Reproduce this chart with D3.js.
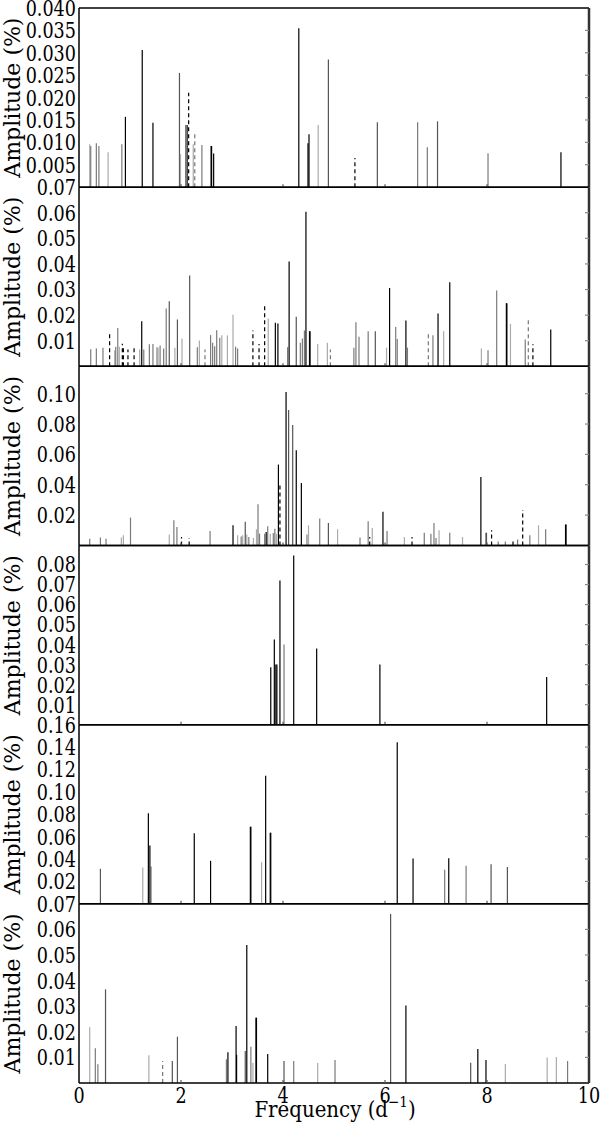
<!DOCTYPE html>
<meta charset="utf-8">
<script src="https://d3js.org/d3.v7.min.js"></script>
<style>
  body { margin: 0; background: #fff; }
  svg text { font-family: "DejaVu Serif"; }
</style>
<body>
<svg id="chart" width="601" height="1124"></svg>
<script>
// peaks per panel: [frequency, amplitude, kind]
// kind: k = black, d = dark grey, g = grey, l = light grey, kd = dashed black, gd = dashed grey
var panel1 = [
  [0.21, 0.0096, "l"], [0.23, 0.0092, "g"], [0.34, 0.0098, "g"], [0.39, 0.0092, "g"],
  [0.57, 0.0078, "l"], [0.84, 0.0096, "g"], [0.91, 0.0157, "k"], [1.24, 0.0306, "k"],
  [1.45, 0.0144, "k"], [1.97, 0.0255, "d"], [1.99, 0.0074, "l"], [2.09, 0.0139, "g"],
  [2.12, 0.0139, "k"], [2.15, 0.0211, "kd"], [2.24, 0.0096, "l"], [2.27, 0.0118, "gd"],
  [2.41, 0.0094, "g"], [2.59, 0.0092, "k"], [2.60, 0.0092, "k"], [2.64, 0.0075, "k"],
  [4.31, 0.0355, "k"], [4.49, 0.0098, "k"], [4.51, 0.0118, "k"], [4.69, 0.0139, "l"],
  [4.89, 0.0285, "d"], [5.41, 0.0065, "kd"], [5.85, 0.0145, "d"], [6.64, 0.0145, "g"],
  [6.83, 0.0089, "g"], [7.03, 0.0147, "d"], [8.02, 0.0076, "g"], [9.45, 0.0078, "k"]
];
var panel2 = [
  [0.23, 0.0067, "g"], [0.34, 0.0070, "g"], [0.47, 0.0073, "g"], [0.60, 0.0133, "kd"],
  [0.70, 0.0063, "l"], [0.72, 0.0077, "g"], [0.76, 0.0150, "g"], [0.79, 0.0077, "l"],
  [0.85, 0.0088, "kd"], [0.87, 0.0082, "kd"], [0.96, 0.0066, "kd"], [1.08, 0.0082, "kd"],
  [1.19, 0.0066, "l"], [1.23, 0.0176, "k"], [1.27, 0.0066, "g"], [1.38, 0.0086, "g"],
  [1.45, 0.0087, "g"], [1.53, 0.0075, "g"], [1.55, 0.0073, "l"], [1.59, 0.0081, "g"],
  [1.66, 0.0070, "g"], [1.71, 0.0226, "g"], [1.77, 0.0254, "d"], [1.88, 0.0073, "l"],
  [1.93, 0.0183, "d"], [2.02, 0.0109, "l"], [2.17, 0.0355, "d"], [2.32, 0.0075, "g"],
  [2.36, 0.0101, "l"], [2.47, 0.0066, "gd"], [2.58, 0.0122, "g"], [2.62, 0.0092, "g"],
  [2.66, 0.0078, "g"], [2.70, 0.0141, "g"], [2.76, 0.0112, "g"], [2.80, 0.0121, "l"],
  [2.91, 0.0121, "l"], [3.02, 0.0202, "l"], [3.07, 0.0077, "g"], [3.11, 0.0070, "g"],
  [3.41, 0.0140, "kd"], [3.53, 0.0087, "kd"], [3.64, 0.0241, "kd"], [3.71, 0.0187, "l"],
  [3.85, 0.0170, "k"], [3.90, 0.0167, "k"], [4.09, 0.0075, "g"], [4.12, 0.0410, "k"],
  [4.26, 0.0194, "d"], [4.34, 0.0092, "g"], [4.38, 0.0109, "g"], [4.42, 0.0140, "g"],
  [4.45, 0.0604, "k"], [4.52, 0.0137, "k"], [4.53, 0.0137, "k"], [4.68, 0.0087, "l"],
  [4.87, 0.0092, "l"], [4.93, 0.0066, "gd"], [5.39, 0.0073, "g"], [5.43, 0.0172, "g"],
  [5.49, 0.0116, "g"], [5.67, 0.0137, "g"], [5.81, 0.0137, "d"], [6.03, 0.0073, "l"],
  [6.09, 0.0306, "k"], [6.21, 0.0154, "g"], [6.24, 0.0107, "g"], [6.41, 0.0179, "k"],
  [6.44, 0.0073, "g"], [6.85, 0.0127, "gd"], [6.94, 0.0121, "g"], [7.04, 0.0206, "k"],
  [7.15, 0.0137, "l"], [7.27, 0.0329, "k"], [7.89, 0.0070, "l"], [8.02, 0.0063, "g"],
  [8.19, 0.0296, "g"], [8.38, 0.0246, "k"], [8.39, 0.0246, "k"], [8.46, 0.0166, "l"],
  [8.75, 0.0105, "g"], [8.81, 0.0187, "gd"], [8.90, 0.0086, "kd"], [9.25, 0.0144, "k"]
];
var panel3 = [
  [0.21, 0.0044, "g"], [0.42, 0.0053, "g"], [0.53, 0.0044, "g"], [0.83, 0.0053, "l"],
  [0.87, 0.0067, "l"], [1.01, 0.0184, "g"], [1.77, 0.0073, "l"], [1.86, 0.0167, "g"],
  [1.92, 0.0122, "g"], [2.01, 0.0056, "kd"], [2.16, 0.0050, "kd"], [2.57, 0.0096, "g"],
  [3.02, 0.0133, "k"], [3.11, 0.0067, "l"], [3.18, 0.0060, "g"], [3.21, 0.0067, "l"],
  [3.26, 0.0156, "d"], [3.29, 0.0073, "l"], [3.33, 0.0056, "g"], [3.42, 0.0050, "l"],
  [3.48, 0.0107, "l"], [3.51, 0.0271, "g"], [3.54, 0.0078, "g"], [3.64, 0.0078, "g"],
  [3.67, 0.0089, "k"], [3.70, 0.0127, "g"], [3.75, 0.0078, "l"], [3.81, 0.0082, "g"],
  [3.84, 0.0111, "g"], [3.87, 0.0078, "l"], [3.91, 0.0533, "k"], [3.94, 0.0400, "kd"],
  [4.06, 0.1011, "k"], [4.11, 0.0893, "d"], [4.19, 0.0793, "d"], [4.26, 0.0627, "k"],
  [4.36, 0.0411, "k"], [4.47, 0.0073, "g"], [4.50, 0.0133, "l"], [4.72, 0.0178, "g"],
  [4.89, 0.0149, "d"], [5.07, 0.0107, "l"], [5.51, 0.0053, "g"], [5.67, 0.0160, "g"],
  [5.70, 0.0056, "kd"], [5.75, 0.0116, "l"], [5.96, 0.0222, "k"], [6.04, 0.0096, "g"],
  [6.38, 0.0056, "l"], [6.53, 0.0056, "kd"], [6.77, 0.0084, "g"], [6.90, 0.0078, "g"],
  [6.96, 0.0149, "g"], [7.00, 0.0050, "g"], [7.06, 0.0100, "l"], [7.27, 0.0084, "g"],
  [7.52, 0.0056, "l"], [7.88, 0.0451, "k"], [7.98, 0.0084, "d"], [7.99, 0.0084, "d"],
  [8.09, 0.0100, "kd"], [8.22, 0.0030, "gd"], [8.36, 0.0030, "gd"], [8.51, 0.0040, "kd"],
  [8.60, 0.0040, "g"], [8.70, 0.0233, "kd"], [8.84, 0.0067, "g"], [9.01, 0.0133, "l"],
  [9.15, 0.0107, "g"], [9.54, 0.0138, "k"], [9.55, 0.0138, "k"]
];
var panel4 = [
  [3.76, 0.0287, "k"], [3.83, 0.0425, "k"], [3.86, 0.0300, "k"], [3.88, 0.0300, "k"],
  [3.94, 0.0720, "k"], [4.02, 0.0400, "g"], [4.21, 0.0845, "k"], [4.66, 0.0380, "k"],
  [5.90, 0.0300, "k"], [9.17, 0.0238, "k"]
];
var panel5 = [
  [0.42, 0.0313, "d"], [1.25, 0.0324, "l"], [1.36, 0.0810, "k"], [1.39, 0.0520, "k"],
  [1.41, 0.0333, "d"], [2.26, 0.0631, "k"], [2.58, 0.0384, "k"], [3.36, 0.0688, "k"],
  [3.37, 0.0688, "k"], [3.58, 0.0372, "l"], [3.66, 0.1143, "k"], [3.75, 0.0634, "k"],
  [3.76, 0.0634, "k"], [6.24, 0.1444, "k"], [6.55, 0.0405, "k"], [7.17, 0.0304, "g"],
  [7.25, 0.0408, "k"], [7.59, 0.0339, "g"], [8.08, 0.0354, "d"], [8.40, 0.0330, "d"]
];
var panel6 = [
  [0.21, 0.0218, "l"], [0.32, 0.0136, "g"], [0.37, 0.0073, "g"], [0.52, 0.0366, "d"],
  [1.37, 0.0108, "l"], [1.64, 0.0086, "gd"], [1.83, 0.0086, "d"], [1.93, 0.0181, "d"],
  [2.89, 0.0093, "g"], [2.92, 0.0120, "k"], [3.08, 0.0223, "k"], [3.09, 0.0110, "k"],
  [3.26, 0.0125, "d"], [3.29, 0.0539, "k"], [3.37, 0.0142, "g"], [3.41, 0.0078, "l"],
  [3.47, 0.0255, "k"], [3.48, 0.0255, "k"], [3.70, 0.0113, "k"], [4.02, 0.0086, "d"],
  [4.21, 0.0086, "g"], [4.68, 0.0078, "l"], [5.02, 0.0090, "g"], [6.11, 0.0660, "d"],
  [6.41, 0.0303, "k"], [7.68, 0.0079, "d"], [7.82, 0.0133, "k"], [7.98, 0.0090, "k"],
  [8.36, 0.0074, "l"], [9.18, 0.0100, "l"], [9.36, 0.0102, "l"], [9.58, 0.0086, "g"]
];

var panels = [panel1, panel2, panel3, panel4, panel5, panel6];
var yMax = [0.040, 0.07, 0.118, 0.0895, 0.16, 0.07];
var yTicks = [
  [0.005, 0.010, 0.015, 0.020, 0.025, 0.030, 0.035, 0.040],
  [0.01, 0.02, 0.03, 0.04, 0.05, 0.06, 0.07],
  [0.02, 0.04, 0.06, 0.08, 0.10],
  [0.01, 0.02, 0.03, 0.04, 0.05, 0.06, 0.07, 0.08],
  [0.02, 0.04, 0.06, 0.08, 0.10, 0.12, 0.14, 0.16],
  [0.01, 0.02, 0.03, 0.04, 0.05, 0.06, 0.07]
];
var yFormats = [".3f", ".2f", ".2f", ".2f", ".2f", ".2f"];
var xTicks = [0, 2, 4, 6, 8, 10];

var margin = {top: 8, left: 79, right: 12, bottom: 41},
    width = 601 - margin.left - margin.right,
    panelH = (1124 - margin.top - margin.bottom) / 6;

var colors = {k: "#000", d: "#555", g: "#7a7a7a", l: "#aaa", kd: "#000", gd: "#777"};
var squeeze = 0.8;   // DejaVu Serif is wider than the original book face

var svg = d3.select("#chart");
var x = d3.scaleLinear().domain([0, 10]).range([margin.left, margin.left + width]);

panels.forEach(function(peaks, i) {
  var top = margin.top + i * panelH;
  var y = d3.scaleLinear().domain([0, yMax[i]]).range([top + panelH, top]);
  var g = svg.append("g");

  // stems
  g.selectAll("line.peak")
    .data(peaks)
    .enter()
    .append("line")
      .attr("class", "peak")
      .attr("x1", d => x(d[0]))
      .attr("x2", d => x(d[0]))
      .attr("y1", y(0))
      .attr("y2", d => y(d[1]))
      .attr("stroke", d => colors[d[2]])
      .attr("stroke-width", 1.2)
      .attr("stroke-dasharray", d => d[2].length > 1 ? "4,3" : null);

  // frame
  g.append("line").attr("x1", x(0)).attr("x2", x(10)).attr("y1", top).attr("y2", top)
    .attr("stroke", "#000").attr("stroke-width", 1.5);
  g.append("line").attr("x1", x(0)).attr("x2", x(10)).attr("y1", top + panelH).attr("y2", top + panelH)
    .attr("stroke", "#000").attr("stroke-width", 1.5);
  g.append("line").attr("x1", x(0)).attr("x2", x(0)).attr("y1", top).attr("y2", top + panelH)
    .attr("stroke", "#000").attr("stroke-width", 1.5);
  g.append("line").attr("x1", x(10)).attr("x2", x(10)).attr("y1", top).attr("y2", top + panelH)
    .attr("stroke", "#333").attr("stroke-width", 2.5);

  // small inward ticks on the right
  g.selectAll("line.rt")
    .data(yTicks[i].filter(v => v < yMax[i]))
    .enter()
    .append("line")
      .attr("x1", x(10) - 4).attr("x2", x(10))
      .attr("y1", d => y(d)).attr("y2", d => y(d))
      .attr("stroke", "#888").attr("stroke-width", 1.2);

  // small x ticks at panel bottom
  g.selectAll("line.xt")
    .data(xTicks.slice(1, -1))
    .enter()
    .append("line")
      .attr("x1", d => x(d)).attr("x2", d => x(d))
      .attr("y1", top + panelH).attr("y2", top + panelH - 3)
      .attr("stroke", "#555").attr("stroke-width", 1.2);

  // y tick labels
  g.selectAll("text.yl")
    .data(yTicks[i])
    .enter()
    .append("text")
      .attr("transform", d => "translate(" + (x(0) - 3) + "," + y(d) + ") scale(" + squeeze + ",1)")
      .attr("dy", "0.36em")
      .attr("text-anchor", "end")
      .attr("font-size", 22)
      .text(d => d3.format(yFormats[i])(d));

  // y label
  g.append("text")
    .attr("transform", "translate(20," + (top + panelH / 2) + ") rotate(-90)")
    .attr("text-anchor", "middle")
    .attr("font-size", 22)
    .text("Amplitude (%)");
});

// x tick labels
var bottom = margin.top + 6 * panelH;
svg.selectAll("text.xl")
  .data(xTicks)
  .enter()
  .append("text")
    .attr("transform", d => "translate(" + x(d) + "," + (bottom + 20) + ") scale(" + squeeze + ",1)")
    .attr("text-anchor", "middle")
    .attr("font-size", 22)
    .text(d => d);

var xl = svg.append("text")
  .attr("transform", "translate(335,1117) scale(0.9,1)")
  .attr("text-anchor", "middle")
  .attr("font-size", 22);
xl.append("tspan").text("Frequency (d");
xl.append("tspan").attr("font-size", 15).attr("dy", -10).text("\u22121");
xl.append("tspan").attr("dy", 10).text(")");
</script>
</body>
